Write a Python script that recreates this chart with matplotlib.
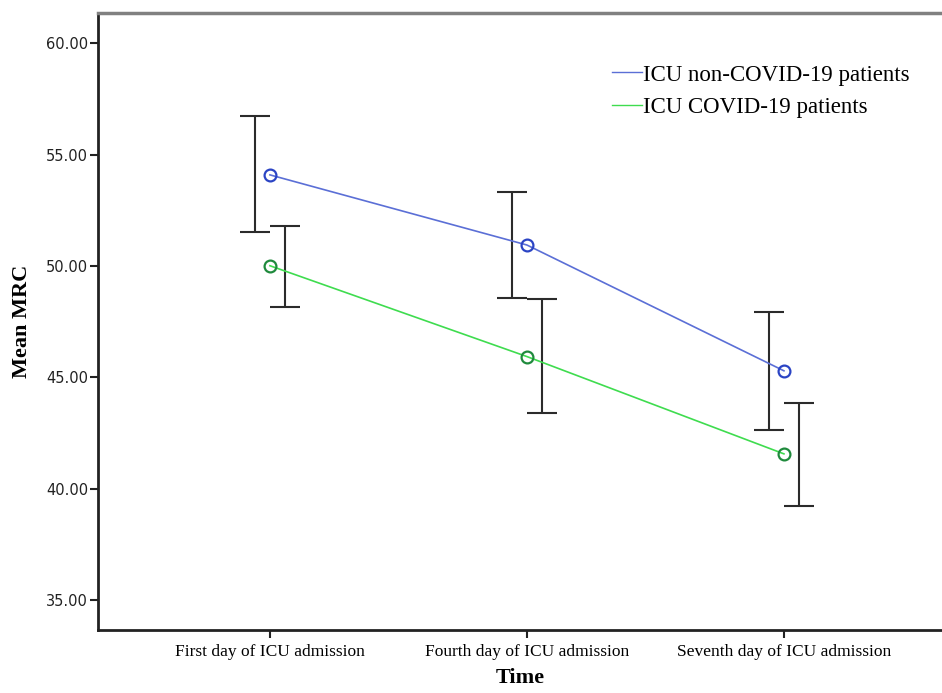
import matplotlib
matplotlib.use('Agg')
import matplotlib.pyplot as plt
import numpy as np

# values
time_points = ['First day of ICU admission', 'Fourth day of ICU admission', 'Seventh day of ICU admission']

non_covid_mean = [54.09, 50.94, 45.29]
non_covid_low = [51.54, 48.55, 42.64]
non_covid_high = [56.74, 53.34, 47.93]

covid_mean = [50.01, 45.93, 41.56]
covid_low = [48.17, 43.39, 39.22]
covid_high = [51.81, 48.50, 43.86]

y_ticks = [35, 40, 45, 50, 55, 60]

fig = plt.figure(figsize=(9.42, 6.93), dpi=100)
ax = fig.add_axes([98 / 942, 1 - 630 / 693, 1 - 98 / 942, (630 - 13) / 693])

x = np.arange(len(time_points))
off = 0.057  # error bars sit beside the markers

# lines with open markers
ax.plot(x, non_covid_mean, color='#5b6fd6', lw=1.2, marker='o', ms=8.5,
        mfc='none', mec='#2b44c4', mew=1.6, label='ICU non-COVID-19 patients', zorder=3)
ax.plot(x, covid_mean, color='#3fdc4f', lw=1.2, marker='o', ms=8.5,
        mfc='none', mec='#1f8a3c', mew=1.6, label='ICU COVID-19 patients', zorder=3)

# error bars (confidence intervals)
for xs, m, lo, hi in [(x - off, non_covid_mean, non_covid_low, non_covid_high),
                      (x + off, covid_mean, covid_low, covid_high)]:
    m = np.array(m)
    yerr = [m - np.array(lo), np.array(hi) - m]
    ax.errorbar(xs, m, yerr=yerr, fmt='none', ecolor='#2b2b2b', elinewidth=1.5,
                capsize=10.5, capthick=1.5, zorder=2)

ax.set_xlim(-0.669, 2.615)
ax.set_ylim(33.65, 61.36)
ax.set_xticks(x)
ax.set_xticklabels(time_points, family='Liberation Serif', fontsize=12.5)
ax.set_yticks(y_ticks)
ax.set_yticklabels(['%.2f' % v for v in y_ticks], family='DejaVu Sans', fontsize=10.5, color='#222222')
ax.tick_params(axis='both', direction='out', length=6, width=1.5, color='#222222')
ax.tick_params(axis='y', pad=1)
ax.tick_params(axis='x', pad=4)

for side in ['left', 'bottom']:
    ax.spines[side].set_linewidth(2)
    ax.spines[side].set_color('#222222')
ax.spines['top'].set_linewidth(2.5)
ax.spines['top'].set_color('#808080')
ax.spines['right'].set_visible(False)

ax.set_ylabel('Mean MRC', family='Liberation Serif', fontsize=16, fontweight='bold', labelpad=10)
ax.set_xlabel('Time', family='Liberation Serif', fontsize=16, fontweight='bold', labelpad=6)

leg = ax.legend(loc='upper left', bbox_to_anchor=(0.585, 0.95), frameon=False,
                handlelength=1.3, handletextpad=0.05, labelspacing=0.5,
                prop={'family': 'Liberation Serif', 'size': 16.5})
for line in leg.get_lines():
    line.set_marker('')
    line.set_linewidth(1.0)

fig.savefig('out.png', dpi=100)
